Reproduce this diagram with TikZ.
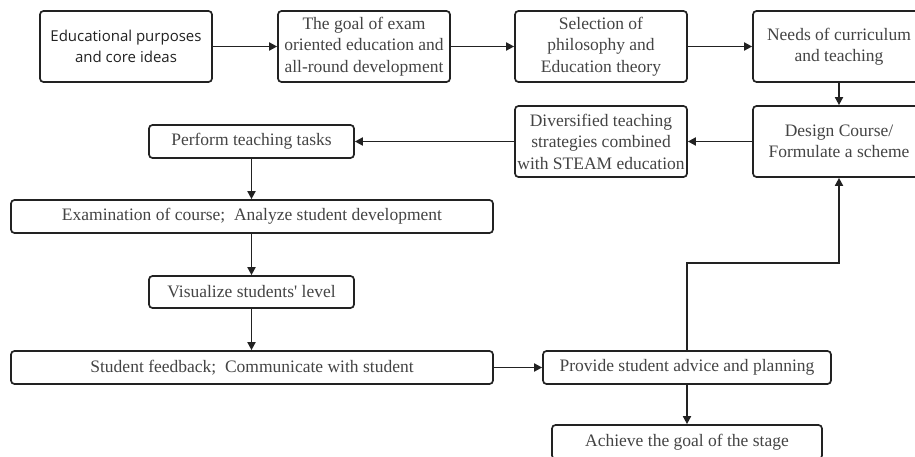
\documentclass[tikz,border=0pt]{standalone}
\usepackage{fontspec}
\setmainfont{Liberation Serif}
\newfontfamily\boxsans{Open Sans}
\usetikzlibrary{arrows.meta}
\definecolor{txt}{HTML}{444444}
\definecolor{edge}{HTML}{222222}
\tikzset{
  x=1pt, y=-1pt,
  flowbox/.style={draw=edge, line width=1.7pt, rounded corners=3.5pt, align=center,
    inner sep=0pt, text=txt, font=\fontsize{17.5}{21.5}\selectfont},
  bigbox/.style={flowbox, minimum width=172pt, minimum height=71pt},
  slimbox/.style={flowbox, minimum height=33pt},
  flowarrow/.style={draw=edge, line width=1.7pt, -{Triangle[length=8pt,width=8pt]}},
  flowline/.style={draw=edge, line width=1.7pt}
}
\begin{document}
\begin{tikzpicture}
\clip (0,0) rectangle (915,457);
\fill[white] (0,0) rectangle (915,457);
\node[bigbox, text=edge, font=\boxsans\fontsize{15}{21.5}\selectfont] (b1) at (126,46.5) {Educational purposes\\and core ideas};
\node[bigbox] (b2) at (364,46.5) {The goal of exam\\oriented education and\\all-round development};
\node[bigbox] (b3) at (601,46.5) {Selection of\\philosophy and\\Education theory};
\node[bigbox] (b4) at (839,46.5) {Needs of curriculum\\and teaching};
\node[bigbox] (b5) at (839,141.5) {Design Course/\\Formulate a scheme};
\node[bigbox] (b6) at (601,141.5) {Diversified teaching\\strategies combined\\with STEAM education};
\node[slimbox, minimum width=205pt] (b7) at (251.5,141.5) {Perform teaching tasks};
\node[slimbox, minimum width=482pt] (b8) at (252,216.5) {Examination of course;\enspace Analyze student development};
\node[slimbox, minimum width=205pt, minimum height=32pt] (b9) at (251.5,292) {Visualize students\textquotesingle\ level};
\node[slimbox, minimum width=482pt] (b10) at (252,367.5) {Student feedback;\enspace Communicate with student};
\node[slimbox, minimum width=288pt] (b11) at (687,367.5) {Provide student advice and planning};
\node[slimbox, minimum width=270pt, minimum height=34pt] (b12) at (687,442) {Achieve the goal of the stage};
\coordinate (turn) at (839,263);
\draw[flowarrow] (b1) -- (b2);
\draw[flowarrow] (b2) -- (b3);
\draw[flowarrow] (b3) -- (b4);
\draw[flowarrow] (b4) -- (b5);
\draw[flowarrow] (b5) -- (b6);
\draw[flowarrow] (b6) -- (b7);
\draw[flowarrow] (b7.south) -- (b7.south |- b8.north);
\draw[flowarrow] (b8.south -| b9.north) -- (b9.north);
\draw[flowarrow] (b9.south) -- (b9.south |- b10.north);
\draw[flowarrow] (b10) -- (b11);
\draw[flowarrow] (b11) -- (b12);
\draw[flowarrow] (b11.north) |- (turn) -- (b5.south);
\end{tikzpicture}
\end{document}
